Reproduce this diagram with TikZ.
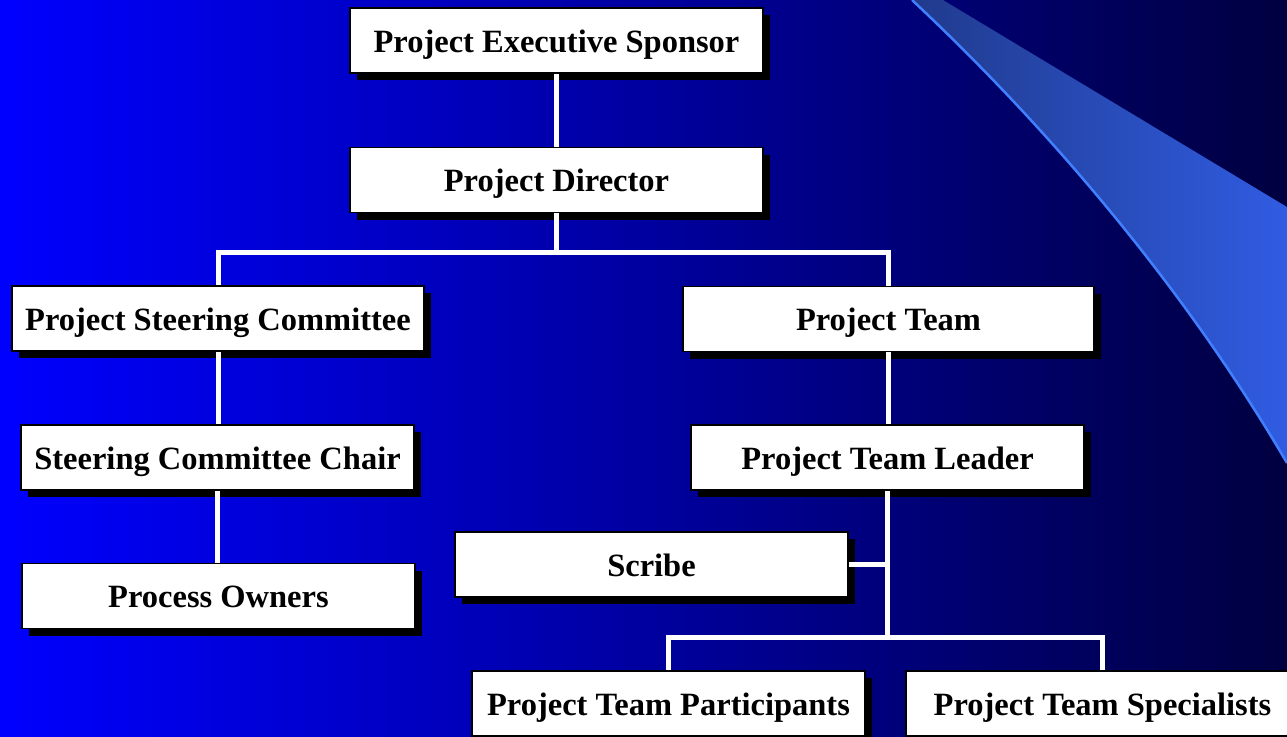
\documentclass[tikz,border=0pt]{standalone}
\usepackage{fontspec}
\setmainfont{Liberation Serif}
\usetikzlibrary{shadows}

\definecolor{bgleft}{RGB}{0,0,255}
\definecolor{bgright}{RGB}{0,0,64}
\definecolor{swoopdark}{RGB}{32,58,140}
\definecolor{swooplight}{RGB}{48,92,226}
\definecolor{swoopedge}{RGB}{64,128,255}

\begin{document}
\begin{tikzpicture}[x=1pt,y=-1pt]
        \tikzset{orgbox/.style={draw=black,line width=1.6pt,fill=white,
                minimum width=393pt,minimum height=65pt,inner sep=0pt,
                text height=30pt,text depth=7pt,
                font=\fontsize{32.5}{39}\selectfont\bfseries,
                drop shadow={shadow xshift=7pt,shadow yshift=-7pt,fill=black,opacity=1}},
            link/.style={draw=white,line width=5pt}}
        \useasboundingbox (0,0) rectangle (1287,736);
        % backdrop and the swoop in the corner
        \shade[left color=bgleft,right color=bgright] (0,0) rectangle (1287,736);
        \shade[left color=swoopdark,right color=swooplight]
            (912,0) .. controls (1040,120) and (1180,280) .. (1287,463)
            -- (1287,207) -- (943,0) -- cycle;
        \draw[swoopedge,line width=2.5pt]
            (912,0) .. controls (1040,120) and (1180,280) .. (1287,463);

        \node[orgbox,minimum width=413pt] (sponsor) at (556.5,40.5) {Project Executive Sponsor};
        \node[orgbox,minimum width=413pt] (director) at (556.5,180) {Project Director};
        \node[orgbox,minimum width=412pt] (steering) at (218,318.5) {Project Steering Committee};
        \node[orgbox] (chair) at (217.5,457.5) {Steering Committee Chair};
        \node[orgbox] (owners) at (218.5,596) {Process Owners};
        \node[orgbox,minimum width=411pt] (team) at (888.5,319) {Project Team};
        \node[orgbox] (leader) at (887.5,457.5) {Project Team Leader};
        \node[orgbox] (scribe) at (651.5,564.5) {Scribe};
        \node[orgbox] (participants) at (668.5,703.5) {Project Team Participants};
        \node[orgbox] (specialists) at (1102.5,703.5) {Project Team Specialists};

        \coordinate (split) at (556.5,252);
        \coordinate (fork) at (887.5,637);
        \draw[link] (sponsor) -- (director);
        \draw[link] (director.south) -- (split) -| (steering.north);
        \draw[link] (split) -| (team.north);
        \draw[link] (steering.south) -- (steering.south |- chair.north);
        \draw[link] (chair.south) -- (chair.south |- owners.north);
        \draw[link] (team.south) -- (team.south |- leader.north);
        \draw[link] (leader.south) -- (fork);
        \draw[link] (participants.north) |- (fork) -| (specialists.north);
        \draw[link] (scribe.east) -- (scribe.east -| leader.south);
    \end{tikzpicture}
\end{document}
